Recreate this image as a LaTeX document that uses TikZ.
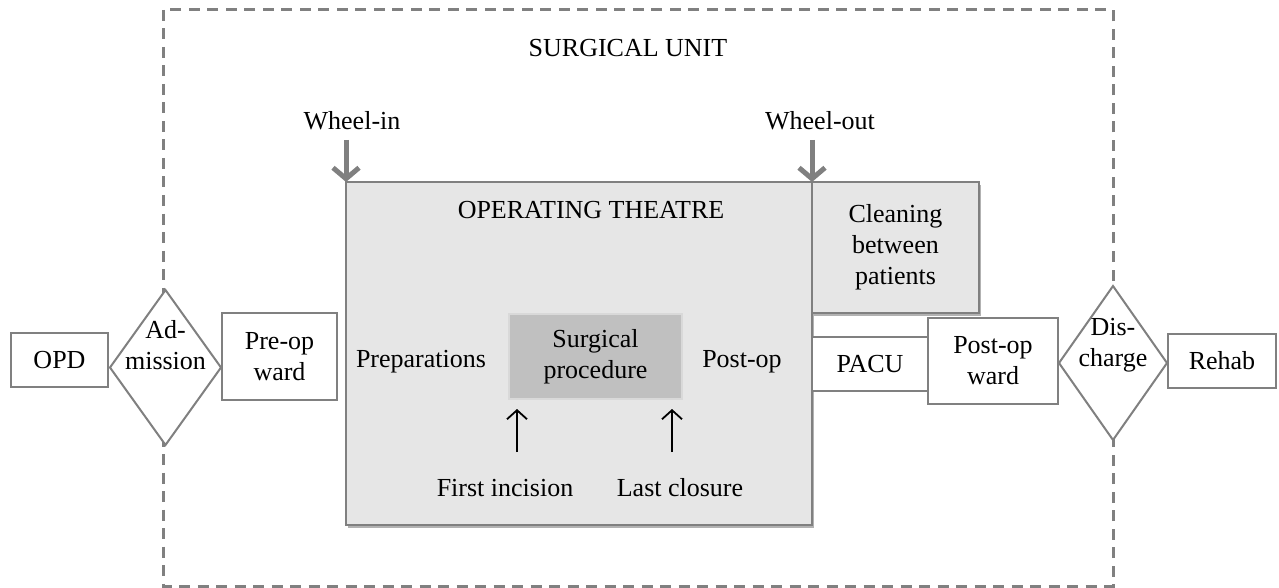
\documentclass[tikz,border=0pt]{standalone}
\usepackage{fontspec}
\setmainfont{Liberation Serif}
\usetikzlibrary{shapes.geometric,arrows.meta,shadows}
\definecolor{edgegray}{RGB}{128,128,128}
\definecolor{otfill}{RGB}{230,230,230}
\definecolor{spfill}{RGB}{192,192,192}
\definecolor{spedge}{RGB}{217,217,217}
\tikzset{
  txt/.style={font=\fontsize{26}{31}\selectfont, inner sep=0pt, outer sep=0pt, align=center, text=black},
  rbox/.style={txt, draw=edgegray, line width=2pt, fill=white},
  graybox/.style={rbox, fill=otfill, drop shadow={shadow xshift=1.5pt, shadow yshift=-3pt, fill=black, opacity=.3}},
  diam/.style={diamond, draw=edgegray, line width=2pt, fill=white, inner sep=0pt, outer sep=0pt},
  wheelarrow/.style={draw=edgegray, line width=5pt, -{Straight Barb[length=11pt,width=26pt]}},
  markarrow/.style={draw=black, line width=1.8pt, -{Straight Barb[length=9pt,width=20pt]}},
  unitframe/.style={draw=edgegray, line width=3pt, dash pattern=on 11pt off 7.5pt}
}
\begin{document}
\begin{tikzpicture}[x=1pt,y=-1pt]
\useasboundingbox (0,0) rectangle (1279,588);
% surgical unit frame
\draw[unitframe] (163,10) rectangle (1113,586);
\node[txt] (su) at (628,48) {SURGICAL UNIT};
% operating theatre
\node[graybox, minimum width=466, minimum height=343] (ot) at (579,353.5) {};
\node[graybox, minimum width=167, minimum height=131] (clean) at (895.5,247.5) {Cleaning\\between\\patients};
\node[txt] (otlabel) at (591,210) {OPERATING THEATRE};
\node[txt] (prep) at (421,362) {Preparations};
\node[txt] (postop) at (742,362) {Post-op};
\node[txt, draw=spedge, line width=2pt, fill=spfill, minimum width=173, minimum height=85] (sp) at (595.5,356.5) {Surgical\\procedure};
\node[txt] (fi) at (505,488) {First incision};
\node[txt] (lc) at (680,488) {Last closure};
\coordinate (fia) at (517,452);
\coordinate (fib) at (517,409);
\coordinate (lca) at (672,452);
\coordinate (lcb) at (672,409);
\draw[markarrow] (fia) -- (fib);
\draw[markarrow] (lca) -- (lcb);
% wheel in/out
\node[txt] (win) at (352,121) {Wheel-in};
\node[txt] (wout) at (820,121) {Wheel-out};
\coordinate (wina) at (346,140);
\coordinate (wouta) at (812,140);
\draw[wheelarrow] (wina) -- (ot.north west);
\draw[wheelarrow] (wouta) -- (ot.north east);
% left chain
\node[rbox, minimum width=97, minimum height=54] (opd) at (59.5,360) {OPD};
\node[diam, minimum width=111, minimum height=155] (adm) at (165.5,367.5) {};
\node[txt] (admt) at (165.5,345) {Ad-\\mission};
\node[rbox, minimum width=115, minimum height=87] (preop) at (279.5,356.5) {Pre-op\\ward};
% right chain
\node[rbox, minimum width=116, minimum height=54] (pacu) at (870,364) {PACU};
\node[rbox, minimum width=130, minimum height=86] (pward) at (993,361) {Post-op\\ward};
\node[diam, minimum width=108, minimum height=154] (dis) at (1113,363) {};
\node[txt] (dist) at (1113,345) {Dis-\\charge};
\node[rbox, minimum width=108, minimum height=54] (rehab) at (1222,361) {Rehab};
\end{tikzpicture}
\end{document}
